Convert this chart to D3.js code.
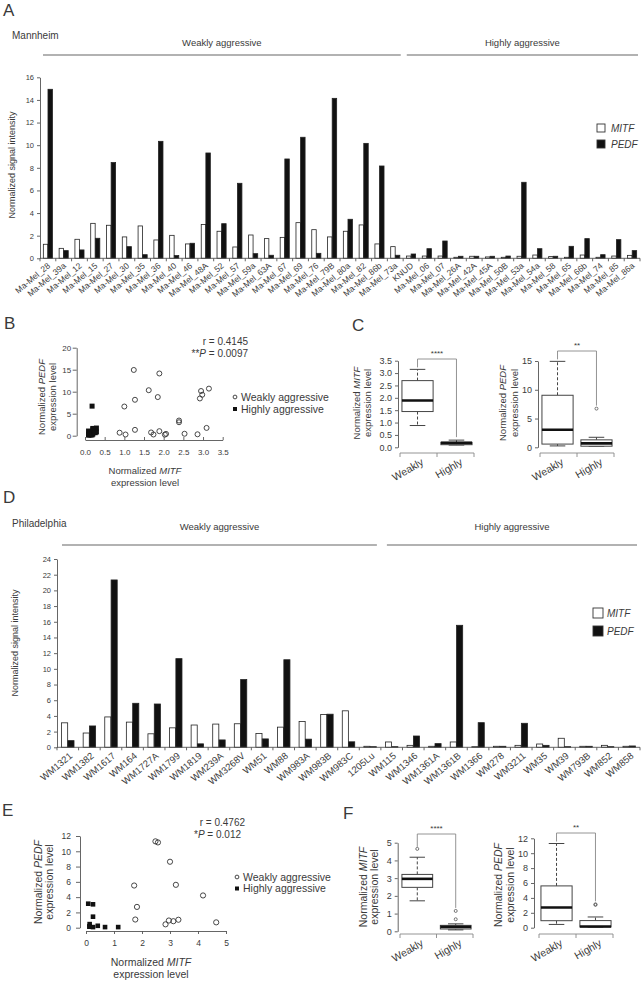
<!DOCTYPE html>
<html><head><meta charset="utf-8">
<script src="https://cdn.jsdelivr.net/npm/d3@7"></script>
<style>
body{margin:0;background:#fff;}
text{font-family:"Liberation Sans",Arial,sans-serif;fill:#3a3a3a;}
</style></head><body>
<svg id="fig" width="642" height="981"></svg>
<script>
// ===== DATA =====
const series = ["MITF", "PEDF"];
const groupNames = ["Weakly", "Highly"];
// Mannheim cohort (panel A; B and C are drawn from it)
const mmWeakly = ["Ma-Mel_28","Ma-Mel_39a","Ma-Mel_12","Ma-Mel_15","Ma-Mel_27","Ma-Mel_30","Ma-Mel_35","Ma-Mel_36","Ma-Mel_40","Ma-Mel_46","Ma-Mel_48A","Ma-Mel_52","Ma-Mel_57","Ma-Mel_59a","Ma-Mel_63A","Ma-Mel_67","Ma-Mel_69","Ma-Mel_76","Ma-Mel_79B","Ma-Mel_80a","Ma-Mel_82","Ma-Mel_86b","Ma-Mel_73a"];
const mmHighly = ["KNUD","Ma-Mel_06","Ma-Mel_07","Ma-Mel_26A","Ma-Mel_42A","Ma-Mel_45A","Ma-Mel_50B","Ma-Mel_53a","Ma-Mel_54a","Ma-Mel_58","Ma-Mel_65","Ma-Mel_66b","Ma-Mel_74","Ma-Mel_85","Ma-Mel_86a"];
const mmMITF = [1.24,0.88,1.68,3.09,2.92,1.89,2.86,1.62,2.03,1.27,2.98,2.39,1.00,2.06,1.74,1.85,3.15,2.53,1.89,2.39,2.95,1.27,1.03,
                0.20,0.20,0.20,0.09,0.18,0.12,0.09,0.18,0.29,0.15,0.09,0.29,0.09,0.20,0.26];
const mmPEDF = [14.94,0.68,0.74,1.77,8.46,1.03,0.32,10.34,0.24,1.33,9.31,3.06,6.63,0.41,0.27,8.78,10.70,0.44,14.14,3.45,10.16,8.16,0.27,
                0.38,0.85,1.53,0.18,0.18,0.18,0.20,6.72,0.85,0.18,1.06,1.74,0.32,1.65,0.68];
const mmStats = {r: "r = 0.4145", p: ["**", "P", " = 0.0097"], box1: "****", box2: "**"};
// Philadelphia cohort (panel D; E and F are drawn from it)
const phWeakly = ["WM1321","WM1382","WM1617","WM164","WM1727A","WM1799","WM1819","WM239A","WM3268V","WM51","WM88","WM983A","WM983B","WM983C","1205Lu"];
const phHighly = ["WM115","WM1346","WM1361A","WM1361B","WM1366","WM278","WM3211","WM35","WM39","WM793B","WM852","WM858"];
const phMITF = [3.12,1.82,3.87,3.21,1.72,2.48,2.84,2.96,3.00,1.76,2.57,3.30,4.18,4.65,0.13,
                0.68,0.25,0.13,0.68,0.08,0.13,0.25,0.42,1.15,0.13,0.25,0.13];
const phPEDF = [0.85,2.72,21.33,5.61,5.52,11.30,0.44,0.94,8.63,1.07,11.16,1.04,4.22,0.70,0.08,
                0.08,1.44,0.47,15.55,3.14,0.13,3.06,0.25,0.08,0.13,0.08,0.17];
const phNotInEF = ["WM1617","1205Lu","WM1361B"];
const phStats = {r: "r = 0.4762", p: ["*", "P", " = 0.012"], box1: "****", box2: "**"};

// ===== DRAWING =====
const svg = d3.select("#fig");
const AX = "#555", TXT = "#3a3a3a";

function panelLetter(t, x, y) {
  svg.append("text").attr("x", x).attr("y", y).attr("font-size", 17).text(t);
}
function styleAxis(g, fs) {
  g.selectAll("path,line").attr("stroke", AX).attr("stroke-width", 0.9);
  g.selectAll("text").attr("font-size", fs).attr("fill", "#555").attr("font-family", '"Liberation Sans",Arial,sans-serif');
}
function rotLabel(x, y, parts, fs) {
  // parts: array of [text, italic]
  const t = svg.append("text").attr("transform", `translate(${x},${y}) rotate(-90)`)
    .attr("text-anchor", "middle").attr("dy", "0.35em").attr("font-size", fs);
  parts.forEach(p => t.append("tspan").attr("font-style", p[1] ? "italic" : "normal").text(p[0]));
}
function hLabel(x, y, parts, fs, anchor) {
  const t = svg.append("text").attr("x", x).attr("y", y).attr("text-anchor", anchor || "middle")
    .attr("dy", "0.35em").attr("font-size", fs);
  parts.forEach(p => t.append("tspan").attr("font-style", p[1] ? "italic" : "normal").text(p[0]));
}

function barPanel(o) {
  const cats = o.weak.concat(o.high);
  const rows = cats.map((c, i) => ({cat: c, MITF: o.mitf[i], PEDF: o.pedf[i]}));
  const x = d3.scaleBand().domain(cats).range([o.x0, o.x1]).paddingInner(0.4).paddingOuter(0.2);
  const xs = d3.scaleBand().domain(series).range([0, x.bandwidth()]).padding(0.04);
  const y = d3.scaleLinear().domain([0, o.ymax]).range([o.yBase, o.yTop]);
  const g = svg.append("g");
  // header
  const boundary = o.x0 + o.weak.length * x.step();
  svg.append("text").attr("x", 12).attr("y", o.headY).attr("dy", "0.35em").attr("font-size", 10).text(o.city);
  const lines = [[o.x0 + o.wl[0], boundary - o.wl[1], "Weakly aggressive"], [boundary + o.hl[0], o.x1 - o.hl[1], "Highly aggressive"]];
  lines.forEach(l => {
    svg.append("line").attr("x1", l[0]).attr("x2", l[1]).attr("y1", o.lineY).attr("y2", o.lineY)
      .attr("stroke", "#999").attr("stroke-width", 1.3);
    svg.append("text").attr("x", (l[0] + l[1]) / 2).attr("y", o.groupY).attr("dy", "0.35em")
      .attr("text-anchor", "middle").attr("font-size", 9.5).text(l[2]);
  });
  // bars
  g.selectAll("g.cat").data(rows).join("g").attr("class", "cat")
    .attr("transform", d => `translate(${x(d.cat)},0)`)
    .selectAll("rect").data(d => series.map(s => ({s, v: d[s]}))).join("rect")
    .attr("x", d => xs(d.s)).attr("width", xs.bandwidth())
    .attr("y", d => y(d.v)).attr("height", d => o.yBase - y(d.v))
    .attr("fill", d => d.s === "MITF" ? "#fff" : "#111")
    .attr("stroke", "#222").attr("stroke-width", 0.8);
  // y axis
  const ya = g.append("g").attr("transform", `translate(${o.x0},0)`)
    .call(d3.axisLeft(y).tickValues(d3.range(0, o.ymax + 1, 2)).tickSize(3).tickSizeOuter(0).tickPadding(3));
  styleAxis(ya, 7.5);
  // x axis with boundary ticks
  g.append("line").attr("x1", o.x0).attr("x2", o.x1).attr("y1", o.yBase).attr("y2", o.yBase).attr("stroke", AX).attr("stroke-width", 0.9);
  g.selectAll("line.bt").data(d3.range(cats.length + 1)).join("line").attr("class", "bt")
    .attr("x1", i => o.x0 + i * x.step()).attr("x2", i => o.x0 + i * x.step())
    .attr("y1", o.yBase).attr("y2", o.yBase + 3).attr("stroke", AX).attr("stroke-width", 0.9);
  g.selectAll("text.xl").data(cats).join("text").attr("class", "xl")
    .attr("transform", c => `translate(${x(c) + x.bandwidth() / 2 + o.lx},${o.yBase + o.ly}) rotate(-40)`)
    .attr("text-anchor", "end").attr("dy", "0.35em").attr("font-size", o.lfs).attr("fill", "#555").text(c => c);
  rotLabel(o.ylabX, o.ylabY, [["Normalized signal intensity", false]], 9);
  // legend
  series.forEach((s, i) => {
    const ly = o.legY + i * o.legDy;
    svg.append("rect").attr("x", o.legX).attr("y", ly - o.legS / 2).attr("width", o.legS).attr("height", o.legS)
      .attr("fill", s === "MITF" ? "#fff" : "#111").attr("stroke", "#333").attr("stroke-width", 0.9);
    svg.append("text").attr("x", o.legX + 14).attr("y", ly).attr("dy", "0.35em").attr("font-size", 10)
      .attr("font-style", "italic").text(s);
  });
}

function scatterPanel(o) {
  const x = d3.scaleLinear().domain([0, o.xmax]).range([o.xa, o.xb]);
  const y = d3.scaleLinear().domain([0, o.ymax]).range([o.ya, o.yb]);
  const yax = svg.append("g").attr("transform", `translate(${o.yAxisX},0)`)
    .call(d3.axisLeft(y).tickValues(o.yticks).tickSize(o.ytick).tickSizeOuter(0).tickPadding(o.ypad));
  styleAxis(yax, o.tfs);
  const xax = svg.append("g").attr("transform", `translate(0,${o.xAxisY})`)
    .call(d3.axisBottom(x).tickValues(o.xticks).tickFormat(o.xfmt).tickSize(o.xtick).tickSizeOuter(0).tickPadding(o.xpad));
  styleAxis(xax, o.tfs);
  svg.append("g").selectAll("circle").data(o.weak).join("circle")
    .attr("cx", d => x(d[0])).attr("cy", d => y(d[1])).attr("r", o.r)
    .attr("fill", "none").attr("stroke", "#333").attr("stroke-width", 0.9);
  svg.append("g").selectAll("rect").data(o.high).join("rect")
    .attr("x", d => x(d[0]) - o.sq / 2).attr("y", d => y(d[1]) - o.sq / 2).attr("width", o.sq).attr("height", o.sq)
    .attr("fill", "#111");
  rotLabel(o.ylx[0], o.yly, [["Normalized ", false], ["PEDF", true]], o.lfs);
  rotLabel(o.ylx[1], o.yly, [["expression level", false]], o.lfs);
  hLabel(o.xlx, o.xly[0], [["Normalized ", false], ["MITF", true]], o.lfs);
  hLabel(o.xlx, o.xly[1], [["expression level", false]], o.lfs);
  hLabel(o.rx, o.ry, [[o.stats.r, false]], 10, "end");
  const t = svg.append("text").attr("x", o.px).attr("y", o.py).attr("dy", "0.35em").attr("text-anchor", "end").attr("font-size", 10);
  t.append("tspan").text(o.stats.p[0]); t.append("tspan").attr("font-style", "italic").text(o.stats.p[1]); t.append("tspan").text(o.stats.p[2]);
  svg.append("circle").attr("cx", o.legX).attr("cy", o.legY).attr("r", 1.9).attr("fill", "none").attr("stroke", "#333").attr("stroke-width", 0.9);
  svg.append("rect").attr("x", o.legX - 2).attr("y", o.legY + o.legDy - 2).attr("width", 4).attr("height", 4).attr("fill", "#111");
  hLabel(o.legX + 6, o.legY, [["Weakly aggressive", false]], 10.5, "start");
  hLabel(o.legX + 6, o.legY + o.legDy, [["Highly aggressive", false]], 10.5, "start");
}

function fivenum(v) {
  const s = v.slice().sort((a, b) => a - b), n = s.length;
  const n4 = Math.floor((n + 3) / 2) / 2;
  return [1, n4, (n + 1) / 2, n + 1 - n4, n].map(d => 0.5 * (s[Math.floor(d) - 1] + s[Math.ceil(d) - 1]));
}
function boxStats(v) {
  const f = fivenum(v), iqr = f[3] - f[1];
  const lo = f[1] - 1.5 * iqr, hi = f[3] + 1.5 * iqr;
  const inside = v.filter(d => d >= lo && d <= hi);
  return {q1: f[1], med: f[2], q3: f[3], wlo: d3.min(inside), whi: d3.max(inside), out: v.filter(d => d < lo || d > hi), max: d3.max(v)};
}

function boxPanel(o) {
  const x = d3.scaleBand().domain(groupNames).range([o.xa, o.xb]).paddingInner(0.2).paddingOuter(0.05);
  const y = d3.scaleLinear().domain([0, o.ymax]).range([o.ya, o.yb]);
  const yax = svg.append("g").attr("transform", `translate(${o.axisX},0)`)
    .call(d3.axisLeft(y).tickValues(o.yticks).tickFormat(o.fmt).tickSize(3).tickSizeOuter(0).tickPadding(3));
  styleAxis(yax, o.tfs);
  // x axis bracket
  const xs = [o.xa, (o.xa + o.xb) / 2, o.xb];
  svg.append("line").attr("x1", o.xa).attr("x2", o.xb).attr("y1", o.axisY).attr("y2", o.axisY).attr("stroke", "#888").attr("stroke-width", 0.9);
  xs.forEach(v => svg.append("line").attr("x1", v).attr("x2", v).attr("y1", o.axisY).attr("y2", o.axisY + 4).attr("stroke", "#888").attr("stroke-width", 0.9));
  groupNames.forEach(gn => {
    svg.append("text").attr("transform", `translate(${x(gn) + x.bandwidth() / 2 + 5},${o.axisY + 8}) rotate(-30)`)
      .attr("text-anchor", "end").attr("dy", "0.35em").attr("font-size", 10.5).text(gn);
  });
  const stats = o.groups.map(v => boxStats(v));
  stats.forEach((s, i) => {
    const gn = groupNames[i], bx = x(gn), bw = x.bandwidth(), cx = bx + bw / 2;
    const g = svg.append("g");
    g.append("line").attr("x1", cx).attr("x2", cx).attr("y1", y(s.q3)).attr("y2", y(s.whi)).attr("stroke", "#444").attr("stroke-dasharray", "3,2");
    g.append("line").attr("x1", cx).attr("x2", cx).attr("y1", y(s.q1)).attr("y2", y(s.wlo)).attr("stroke", "#444").attr("stroke-dasharray", "3,2");
    [s.whi, s.wlo].forEach(w => g.append("line").attr("x1", cx - bw * 0.25).attr("x2", cx + bw * 0.25).attr("y1", y(w)).attr("y2", y(w)).attr("stroke", "#444"));
    g.append("rect").attr("x", bx).attr("width", bw).attr("y", y(s.q3)).attr("height", Math.max(0.5, y(s.q1) - y(s.q3)))
      .attr("fill", "#fff").attr("stroke", "#444").attr("stroke-width", 1);
    g.append("line").attr("x1", bx).attr("x2", bx + bw).attr("y1", y(s.med)).attr("y2", y(s.med)).attr("stroke", "#111").attr("stroke-width", 2.6);
    g.selectAll("circle").data(s.out).join("circle").attr("cx", cx).attr("cy", d => y(d)).attr("r", 1.5)
      .attr("fill", "none").attr("stroke", "#555").attr("stroke-width", 0.8);
  });
  // significance bracket
  const c0 = x(groupNames[0]) + x.bandwidth() / 2, c1 = x(groupNames[1]) + x.bandwidth() / 2;
  svg.append("path").attr("d", `M${c0},${y(stats[0].max) - 2}V${o.brY}H${c1}V${y(stats[1].max) - 3}`)
    .attr("fill", "none").attr("stroke", "#888").attr("stroke-width", 0.9);
  svg.append("text").attr("x", (c0 + c1) / 2).attr("y", o.brY - 6).attr("text-anchor", "middle").attr("dy", "0.35em")
    .attr("font-size", 8).text(o.stars);
  rotLabel(o.ylx[0], o.yly, [["Normalized ", false], [o.gene, true]], o.lfs);
  rotLabel(o.ylx[1], o.yly, [["expression level", false]], o.lfs);
}

// ---- Panel A
panelLetter("A", 3, 16);
barPanel({weak: mmWeakly, high: mmHighly, mitf: mmMITF, pedf: mmPEDF, city: "Mannheim",
  x0: 40, x1: 640, yBase: 258.3, yTop: 77.3, ymax: 16, headY: 35, groupY: 43, lineY: 55,
  wl: [3, 2.4], hl: [3.6, 2], lx: 1, ly: 6, lfs: 8.5, ylabX: 12, ylabY: 165,
  legX: 597, legY: 128, legDy: 16, legS: 8});

// ---- Panel B
panelLetter("B", 4, 329);
const mmIdx = d3.range(mmMITF.length);
scatterPanel({
  weak: mmIdx.filter(i => i < mmWeakly.length).map(i => [mmMITF[i], mmPEDF[i]]),
  high: mmIdx.filter(i => i >= mmWeakly.length).map(i => [mmMITF[i], mmPEDF[i]]),
  xmax: 3.5, ymax: 20, xa: 85, xb: 222.7, ya: 435.7, yb: 347.7, yAxisX: 76.7, xAxisY: 440,
  yticks: [0, 5, 10, 15, 20], xticks: d3.range(0, 3.51, 0.5), xfmt: d3.format(".1f"),
  ytick: 4, ypad: 1.5, xtick: -3, xpad: 9.5, tfs: 8, r: 2.5, sq: 5,
  ylx: [42, 53], yly: 397, xlx: 145, xly: [470.5, 483], lfs: 9.5,
  rx: 248, ry: 341, px: 248, py: 353, stats: mmStats, legX: 235, legY: 397, legDy: 12});

// ---- Panel C
panelLetter("C", 352, 331);
boxPanel({groups: [mmMITF.slice(0, mmWeakly.length), mmMITF.slice(mmWeakly.length)],
  xa: 400, xb: 474, ya: 447.3, yb: 360.7, ymax: 3.5, axisX: 398, axisY: 453,
  yticks: d3.range(0, 3.51, 0.5), fmt: d3.format(".1f"), tfs: 9, brY: 359, stars: mmStats.box1,
  gene: "MITF", ylx: [357, 368], yly: 403, lfs: 9.5});
boxPanel({groups: [mmPEDF.slice(0, mmWeakly.length), mmPEDF.slice(mmWeakly.length)],
  xa: 540, xb: 614, ya: 447.3, yb: 361, ymax: 15, axisX: 538, axisY: 453,
  yticks: [0, 5, 10, 15], fmt: d3.format("d"), tfs: 9, brY: 351, stars: mmStats.box2,
  gene: "PEDF", ylx: [503, 515], yly: 403, lfs: 9.5});

// ---- Panel D
panelLetter("D", 3, 503);
barPanel({weak: phWeakly, high: phHighly, mitf: phMITF, pedf: phPEDF, city: "Philadelphia",
  x0: 57, x1: 640, yBase: 747.3, yTop: 559, ymax: 24, headY: 523, groupY: 527, lineY: 545,
  wl: [5, 4], hl: [6, 3], lx: 3, ly: 7, lfs: 9.5, ylabX: 15, ylabY: 643,
  legX: 593, legY: 613, legDy: 18, legS: 10});

// ---- Panel E
panelLetter("E", 2, 816);
const phCats = phWeakly.concat(phHighly);
const phUse = d3.range(phCats.length).filter(i => !phNotInEF.includes(phCats[i]));
const phW = phUse.filter(i => i < phWeakly.length), phH = phUse.filter(i => i >= phWeakly.length);
scatterPanel({
  weak: phW.map(i => [phMITF[i], phPEDF[i]]),
  high: phH.map(i => [phMITF[i], phPEDF[i]]),
  xmax: 5, ymax: 12, xa: 86, xb: 226, ya: 927.7, yb: 836, yAxisX: 80, xAxisY: 931,
  yticks: d3.range(0, 12.1, 2), xticks: d3.range(0, 5.1, 1), xfmt: d3.format("d"),
  ytick: 4, ypad: 5, xtick: 3, xpad: 6, tfs: 8.5, r: 2.6, sq: 4.6,
  ylx: [38, 49.5], yly: 882, xlx: 151, xly: [962, 974.5], lfs: 10.5,
  rx: 245, ry: 822, px: 241, py: 834, stats: phStats, legX: 237, legY: 877, legDy: 11.5});

// ---- Panel F
panelLetter("F", 343, 819);
boxPanel({groups: [phW.map(i => phMITF[i]), phH.map(i => phMITF[i])],
  xa: 400, xb: 473, ya: 931.3, yb: 842.7, ymax: 5, axisX: 397.7, axisY: 934,
  yticks: d3.range(0, 5.1, 1), fmt: d3.format("d"), tfs: 9, brY: 834, stars: phStats.box1,
  gene: "MITF", ylx: [363, 374.5], yly: 887, lfs: 10.5});
boxPanel({groups: [phW.map(i => phPEDF[i]), phH.map(i => phPEDF[i])],
  xa: 539, xb: 613, ya: 927.7, yb: 838.3, ymax: 12, axisX: 534, axisY: 934,
  yticks: d3.range(0, 12.1, 2), fmt: d3.format("d"), tfs: 9, brY: 833, stars: phStats.box2,
  gene: "PEDF", ylx: [498, 510], yly: 885, lfs: 10.5});
</script>
</body></html>
